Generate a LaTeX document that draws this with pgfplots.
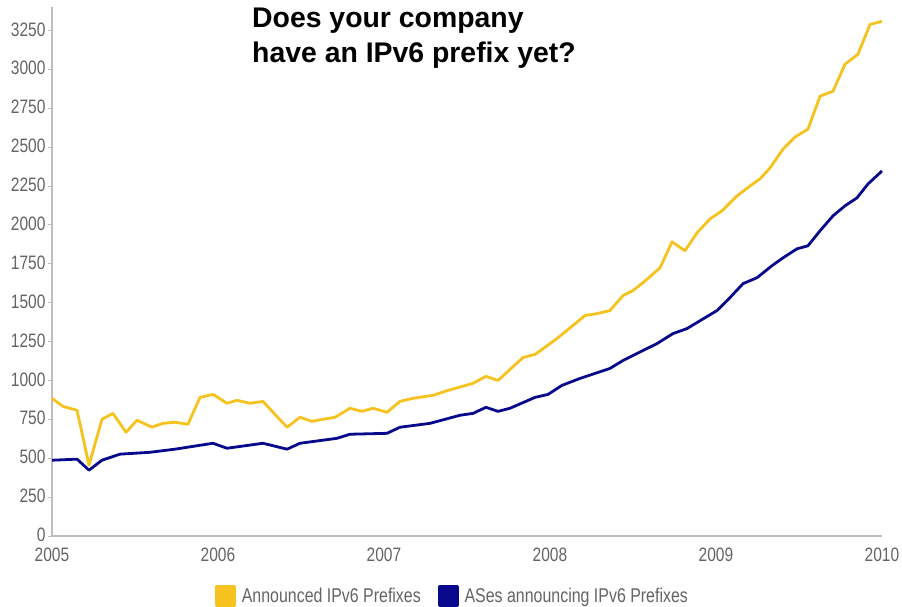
\documentclass[border=0pt]{standalone}
\usepackage{pgfplots}
\pgfplotsset{compat=1.18}
\usepackage{fontspec}
\setmainfont{Liberation Sans}
\newfontfamily\narrowfont[FakeStretch=0.8]{Liberation Sans}
\definecolor{gold}{RGB}{245,194,30}
\definecolor{legold}{RGB}{255,196,0}
\definecolor{navyb}{RGB}{8,8,140}
\definecolor{ticktext}{RGB}{100,100,100}
\definecolor{axisgray}{RGB}{190,190,190}
\begin{document}
\begin{tikzpicture}
\useasboundingbox (0,0) rectangle (902bp,607bp);
\begin{axis}[
  at={(52bp,71bp)}, anchor=south west,
  scale only axis, width=830bp, height=529bp,
  xmin=2005, xmax=2010, ymin=0, ymax=3400,
  axis lines=left,
  axis line style={-, draw=axisgray, line width=1.6bp},
  xtick={2005,2006,2007,2008,2009,2010},
  ytick={0,250,...,3250},
  xtick style={draw=none},
  ytick style={draw=axisgray, line width=0.8bp},
  tick align=outside, major tick length=4bp,
  /pgf/number format/1000 sep={},
  /pgf/number format/assume math mode=true,
  tick label style={font=\narrowfont\fontsize{19.5}{19.5}\selectfont, text=ticktext},
  yticklabel style={xshift=1bp, yshift=1bp},
  xticklabel style={yshift=-4bp},
  clip=false,
  legend columns=2,
  legend style={at={(0.4825,-0.113)}, anchor=center, draw=none, fill=none,
    font=\narrowfont\fontsize{20}{20}\selectfont, text=ticktext,
    /tikz/every odd column/.append style={column sep=4bp},
    /tikz/every even column/.append style={column sep=15bp}},
  legend image code/.code={\fill[#1] (0bp,-9.5bp) rectangle (18bp,9.5bp);},
]
\addplot[gold, line width=2.8bp, line join=round] coordinates {
(2005.000,885) (2005.066,833) (2005.151,808) (2005.223,455) (2005.301,750)
(2005.367,788) (2005.446,667) (2005.512,744) (2005.602,700) (2005.669,724)
(2005.741,731) (2005.819,718) (2005.892,891) (2005.970,910) (2006.054,853)
(2006.114,872) (2006.193,853) (2006.271,865) (2006.416,699) (2006.494,763)
(2006.566,737) (2006.633,750) (2006.705,763) (2006.795,821) (2006.867,801)
(2006.934,821) (2007.018,795) (2007.096,865) (2007.175,885) (2007.295,904)
(2007.386,936) (2007.536,981) (2007.614,1026) (2007.687,1000) (2007.837,1147)
(2007.910,1167) (2008.042,1269) (2008.211,1417) (2008.283,1429) (2008.361,1449)
(2008.440,1545) (2008.500,1577) (2008.560,1628) (2008.663,1724) (2008.735,1891)
(2008.813,1833) (2008.886,1949) (2008.964,2038) (2009.036,2090) (2009.127,2186)
(2009.205,2250) (2009.265,2295) (2009.325,2365) (2009.404,2487) (2009.476,2564)
(2009.554,2615) (2009.627,2827) (2009.705,2859) (2009.777,3032) (2009.855,3096)
(2009.928,3288) (2010.000,3308)
};
\addlegendentry{Announced IPv6 Prefixes}
\addplot[navyb, line width=2.8bp, line join=round] coordinates {
(2005.000,487) (2005.151,494) (2005.223,423) (2005.301,487) (2005.410,526)
(2005.590,538) (2005.741,558) (2005.970,596) (2006.054,564) (2006.271,596)
(2006.416,558) (2006.494,596) (2006.717,628) (2006.795,654) (2007.018,660)
(2007.096,699) (2007.277,724) (2007.458,776) (2007.536,788) (2007.614,827)
(2007.687,801) (2007.759,821) (2007.910,891) (2007.988,910) (2008.072,968)
(2008.181,1013) (2008.361,1077) (2008.440,1128) (2008.645,1237) (2008.741,1301)
(2008.825,1333) (2009.006,1449) (2009.084,1532) (2009.163,1622) (2009.247,1660)
(2009.337,1737) (2009.404,1788) (2009.488,1846) (2009.554,1865) (2009.627,1962)
(2009.705,2058) (2009.777,2122) (2009.849,2173) (2009.916,2263) (2010.000,2346)
};
\addlegendentry{ASes announcing IPv6 Prefixes}
\end{axis}
\node[anchor=base west, inner sep=0pt, font=\bfseries\fontsize{28.5}{28.5}\selectfont] at (252bp,579bp) {Does your company};
\node[anchor=base west, inner sep=0pt, font=\bfseries\fontsize{28.5}{28.5}\selectfont] at (252bp,544bp) {have an IPv6 prefix yet?};
\end{tikzpicture}
\end{document}
